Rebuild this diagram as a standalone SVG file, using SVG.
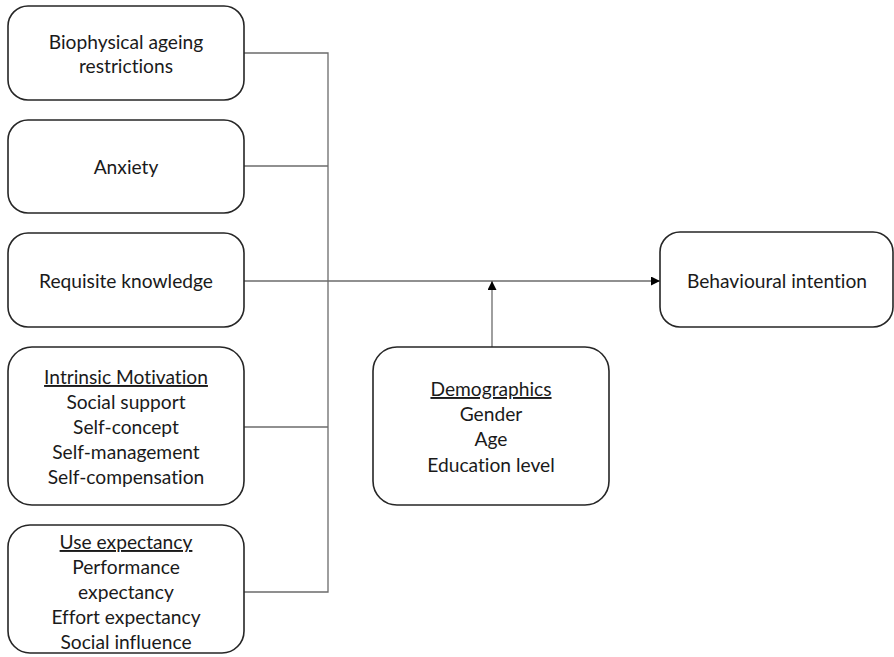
<svg xmlns="http://www.w3.org/2000/svg" width="894" height="657" viewBox="0 0 894 657">
<style>
.box{fill:#fff;stroke:#262626;stroke-width:1.6}
.t{font-family:Lato,"Liberation Sans",sans-serif;font-size:19.2px;fill:#1a1a1a;text-anchor:middle;font-variant-ligatures:none}
.u{text-decoration:underline}
.c{stroke:#6b6b6b;stroke-width:1.3;fill:none}
</style>
<defs>
<marker id="ah" viewBox="0 0 10 10" refX="10" refY="5" markerWidth="9" markerHeight="9" markerUnits="userSpaceOnUse" orient="auto">
<path d="M0,0 L10,5 L0,10 z" fill="#000"/>
</marker>
</defs>
<rect width="894" height="657" fill="#fff"/>
<g id="connectors">
<path class="c" d="M244,53 H328 V592 H244"/>
<path class="c" d="M244,166 H328"/>
<path class="c" d="M244,427 H328"/>
<path class="c" d="M244,281 H660" marker-end="url(#ah)"/>
<path class="c" d="M492,347 V281" marker-end="url(#ah)"/>
</g>
<g id="n1"><rect class="box" x="8" y="6" width="236" height="94" rx="20"/>
<text class="t" x="126" y="49">Biophysical ageing</text><text class="t" x="126" y="73">restrictions</text></g>
<g id="n2"><rect class="box" x="8" y="120" width="236" height="93" rx="20"/>
<text class="t" x="126" y="174">Anxiety</text></g>
<g id="n3"><rect class="box" x="8" y="233" width="236" height="94" rx="20"/>
<text class="t" x="126" y="288">Requisite knowledge</text></g>
<g id="n4"><rect class="box" x="8" y="347" width="236" height="158" rx="24"/>
<text class="t u" x="126" y="384">Intrinsic Motivation</text>
<text class="t" x="126" y="409">Social support</text>
<text class="t" x="126" y="434">Self-concept</text>
<text class="t" x="126" y="459">Self-management</text>
<text class="t" x="126" y="484">Self-compensation</text></g>
<g id="n5"><rect class="box" x="8" y="525" width="236" height="128" rx="22"/>
<text class="t u" x="126" y="549">Use expectancy</text>
<text class="t" x="126" y="574">Performance</text>
<text class="t" x="126" y="599">expectancy</text>
<text class="t" x="126" y="624">Effort expectancy</text>
<text class="t" x="126" y="649">Social influence</text></g>
<g id="n6"><rect class="box" x="660" y="232" width="233" height="95" rx="20"/>
<text class="t" x="777" y="288">Behavioural intention</text></g>
<g id="n7"><rect class="box" x="373" y="347" width="236" height="158" rx="24"/>
<text class="t u" x="491" y="396">Demographics</text>
<text class="t" x="491" y="421">Gender</text>
<text class="t" x="491" y="446">Age</text>
<text class="t" x="491" y="472">Education level</text></g>
</svg>
